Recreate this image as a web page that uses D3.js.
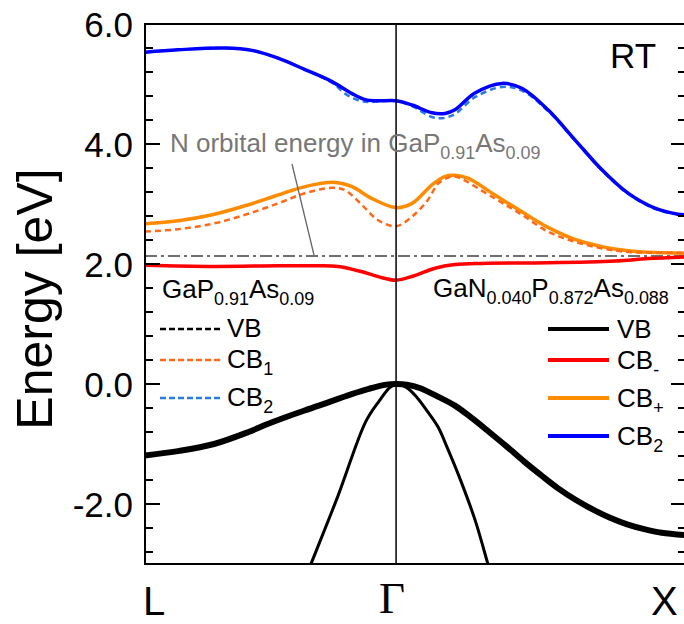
<!DOCTYPE html>
<html><head><meta charset="utf-8">
<script src="https://cdn.jsdelivr.net/npm/d3@7"></script>
<style>body{margin:0;background:#fff}svg{display:block}</style>
</head><body>
<svg id="c" width="684" height="624"></svg>
<script>
// ---- data (k along L-Γ-X path, Γ = 0) ----
const kTicks = [-0.866, 0, 1];
const kLabels = ["L", "Γ", "X"];
const yTicksMajor = [6, 4, 2, 0, -2];
const nOrbital = 2.133;

const kCB2 = [-0.866,-0.752,-0.59,-0.497,-0.407,-0.314,-0.221,-0.152,-0.107,-0.062,0,0.055,0.124,0.169,0.203,0.272,0.366,0.434,0.524,0.617,0.71,0.8,0.893,0.972,1.0];
const eCB2 = [5.53,5.57,5.60,5.56,5.43,5.24,5.04,4.84,4.74,4.72,4.72,4.65,4.52,4.51,4.57,4.85,5.01,4.93,4.57,4.07,3.57,3.18,2.93,2.83,2.82];
const kCB2ref = [-0.866,-0.752,-0.59,-0.497,-0.407,-0.314,-0.221,-0.176,-0.131,-0.097,-0.062,0,0.055,0.124,0.159,0.203,0.272,0.366,0.434,0.524,0.617,0.71,0.8,0.893,0.972,1.0];
const eCB2ref = [5.53,5.57,5.60,5.56,5.43,5.24,5.02,4.84,4.73,4.70,4.71,4.72,4.63,4.45,4.43,4.50,4.78,4.95,4.89,4.55,4.06,3.56,3.17,2.92,2.83,2.82];

const kCBp = [-0.866,-0.752,-0.634,-0.521,-0.407,-0.314,-0.21,-0.152,-0.083,0,0.055,0.124,0.169,0.203,0.248,0.341,0.434,0.524,0.617,0.71,0.8,0.893,1.0];
const eCBp = [2.67,2.72,2.82,2.97,3.15,3.29,3.36,3.29,3.09,2.94,3.01,3.32,3.46,3.48,3.43,3.15,2.87,2.61,2.41,2.29,2.22,2.19,2.18];
const kCB1 = [-0.866,-0.752,-0.634,-0.521,-0.407,-0.314,-0.221,-0.176,-0.117,-0.062,0,0.055,0.11,0.145,0.179,0.203,0.341,0.434,0.524,0.617,0.71,0.8,1.0];
const eCB1 = [2.54,2.58,2.67,2.82,3.01,3.18,3.27,3.23,2.98,2.73,2.63,2.79,3.07,3.34,3.44,3.46,3.09,2.82,2.54,2.37,2.26,2.20,2.19];

const kCBm = [-0.866,-0.634,-0.407,-0.29,-0.2,-0.117,-0.062,0,0.06,0.134,0.203,0.297,0.524,0.755,0.869,1.0];
const eCBm = [1.98,1.96,1.97,1.97,1.96,1.87,1.79,1.73,1.80,1.93,1.99,2.01,2.02,2.05,2.09,2.12];

const kVB = [-0.866,-0.747,-0.628,-0.509,-0.45,-0.391,-0.272,-0.153,-0.094,-0.034,0,0.037,0.084,0.144,0.203,0.262,0.321,0.381,0.441,0.5,0.559,0.619,0.678,0.738,0.797,0.856,0.916,1.0];
const eVB = [-1.19,-1.115,-1.00,-0.80,-0.68,-0.57,-0.37,-0.168,-0.08,-0.01,0,-0.01,-0.07,-0.21,-0.36,-0.57,-0.80,-1.04,-1.29,-1.52,-1.74,-1.93,-2.09,-2.23,-2.34,-2.42,-2.48,-2.52];
const eVBref = eVB.slice(); // GaP0.91As0.09 VB coincides with the alloy VB in the picture
const kLH = [-0.33,-0.301,-0.2,-0.105,-0.058,-0.022,0,0.037,0.072,0.108,0.144,0.179,0.227,0.274,0.322,0.35];
const eLH = [-3.45,-3.09,-1.86,-0.63,-0.28,-0.06,0,-0.06,-0.225,-0.455,-0.71,-1.09,-1.66,-2.29,-3.09,-3.55];

// ---- layout ----
const svg = d3.select("#c");
const L = 145, R = 686, T = 24, B = 564;
const x = d3.scaleLinear().domain([-0.866, 1]).range([L, R]);
const y = d3.scaleLinear().domain([-3, 6]).range([B, T]);
const sans = "Arial, 'Liberation Sans', sans-serif";

svg.append("clipPath").attr("id","clip").append("rect")
  .attr("x",L).attr("y",T).attr("width",R-L).attr("height",B-T);

const g = svg.append("g").attr("clip-path","url(#clip)");
const line = d3.line().x(d=>x(d[0])).y(d=>y(d[1])).curve(d3.curveCatmullRom.alpha(0.5));
const zip = (a,b)=>a.map((v,i)=>[v,b[i]]);

// N orbital dash-dot
g.append("line").attr("x1",L).attr("x2",R).attr("y1",y(nOrbital)).attr("y2",y(nOrbital))
  .attr("stroke","#6f6f6f").attr("stroke-width",1.8).attr("stroke-dasharray","12,4,3,4");

// Gamma vertical
svg.append("line").attr("x1",x(0)).attr("x2",x(0)).attr("y1",T).attr("y2",B)
  .attr("stroke","#000").attr("stroke-width",1.5);

const series = [
  {k:kLH, e:eLH, c:"#000", w:3, d:null},
  {k:kVB, e:eVB, c:"#000", w:6, d:null},
  {k:kVB, e:eVBref, c:"#000", w:2.5, d:"6,4"},
  {k:kCBm, e:eCBm, c:"#ff0000", w:3.5, d:null},
  {k:kCBp, e:eCBp, c:"#ff8c00", w:3.5, d:null},
  {k:kCB1, e:eCB1, c:"#ff6a1a", w:2.5, d:"6,4"},
  {k:kCB2ref, e:eCB2ref, c:"#2a7be0", w:2.5, d:"6,4"},
  {k:kCB2, e:eCB2, c:"#0000ff", w:3.5, d:null}
];
series.forEach(s=>{
  g.append("path").attr("d", line(zip(s.k,s.e))).attr("fill","none")
   .attr("stroke",s.c).attr("stroke-width",s.w)
   .attr("stroke-dasharray",s.d).attr("stroke-linejoin","round");
});

// frame
svg.append("rect").attr("x",L).attr("y",T).attr("width",R-L).attr("height",B-T)
  .attr("fill","none").attr("stroke","#000").attr("stroke-width",2);

// ticks
const minor = d3.range(-2.8, 6.01, 0.4).map(v=>+v.toFixed(1));
minor.forEach(v=>{
  const major = yTicksMajor.some(m=>Math.abs(m-v)<1e-6);
  const len = major ? 15 : 8;
  svg.append("line").attr("x1",L).attr("x2",L+len).attr("y1",y(v)).attr("y2",y(v)).attr("stroke","#000").attr("stroke-width",2);
  svg.append("line").attr("x1",R).attr("x2",R-len).attr("y1",y(v)).attr("y2",y(v)).attr("stroke","#000").attr("stroke-width",2);
});
yTicksMajor.forEach(v=>{
  svg.append("text").attr("x",133).attr("y",y(v)).attr("dy","0.36em")
    .attr("text-anchor","end").attr("font-family",sans).attr("font-size",35)
    .text(v.toFixed(1));
});

// x labels
svg.append("text").attr("x",x(kTicks[0])-2).attr("y",615).attr("font-family",sans).attr("font-size",40).text(kLabels[0]);
svg.append("text").attr("x",x(kTicks[1])-4).attr("y",613).attr("text-anchor","middle")
  .attr("font-family","'Times New Roman','Liberation Serif',serif").attr("font-size",45).text(kLabels[1]);
svg.append("text").attr("x",x(kTicks[2])-35).attr("y",615).attr("font-family",sans).attr("font-size",40).text(kLabels[2]);

// y title
svg.append("text").attr("transform","translate(52,299) rotate(-90)").attr("text-anchor","middle")
  .attr("font-family",sans).attr("font-size",50).text("Energy [eV]");

// RT
svg.append("text").attr("x",610).attr("y",68).attr("font-family",sans).attr("font-size",35).text("RT");

// helper for subscripted text
function subText(xp, yp, parts, size, fill){
  const t = svg.append("text").attr("x",xp).attr("y",yp).attr("font-family",sans).attr("font-size",size).attr("fill",fill||"#000");
  let sub=false;
  parts.forEach(p=>{
    const isSub = p[1];
    const ts = t.append("tspan").text(p[0]);
    if(isSub){ ts.attr("font-size",size*0.69); if(!sub) ts.attr("dy",7); sub=true; }
    else { if(sub) ts.attr("dy",-7); sub=false; }
  });
  return t;
}

// N orbital label + pointer
subText(170,152,[["N orbital energy in GaP",0],["0.91",1],["As",0],["0.09",1]],26,"#777");
svg.append("line").attr("x1",292).attr("y1",164).attr("x2",314).attr("y2",y(nOrbital)-1)
  .attr("stroke","#666").attr("stroke-width",1.3);

// left legend
subText(162,298,[["GaP",0],["0.91",1],["As",0],["0.09",1]],26);
const legL = [
  {y:329, c:"#000", parts:[["VB",0]], by:337},
  {y:360, c:"#ff6a1a", parts:[["CB",0],["1",1]], by:368},
  {y:398, c:"#2a7be0", parts:[["CB",0],["2",1]], by:406}
];
legL.forEach(d=>{
  svg.append("line").attr("x1",160).attr("x2",220).attr("y1",d.y).attr("y2",d.y)
    .attr("stroke",d.c).attr("stroke-width",2.5).attr("stroke-dasharray","6,3");
  subText(227,d.by,d.parts,26);
});

// right legend
subText(433,297,[["GaN",0],["0.040",1],["P",0],["0.872",1],["As",0],["0.088",1]],26);
const legR = [
  {y:329, c:"#000", parts:[["VB",0]], by:338},
  {y:360, c:"#ff0000", parts:[["CB",0],["-",1]], by:369},
  {y:398, c:"#ff8c00", parts:[["CB",0],["+",1]], by:407},
  {y:436, c:"#0000ff", parts:[["CB",0],["2",1]], by:445}
];
legR.forEach(d=>{
  svg.append("line").attr("x1",548).attr("x2",609).attr("y1",d.y).attr("y2",d.y)
    .attr("stroke",d.c).attr("stroke-width",4);
  subText(617,d.by,d.parts,26);
});
</script>
</body></html>
